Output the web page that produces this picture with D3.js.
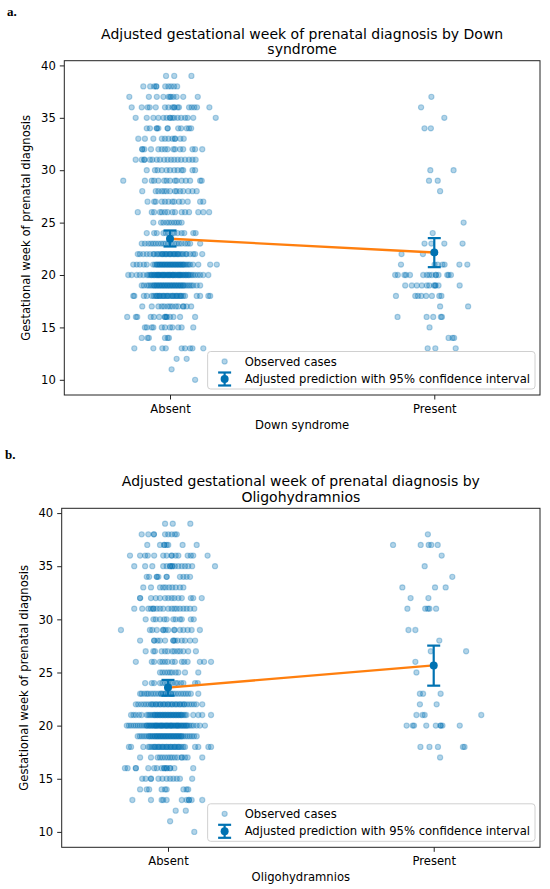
<!DOCTYPE html>
<html>
<head>
<meta charset="utf-8">
<title>Adjusted gestational week of prenatal diagnosis</title>
<script src="https://cdn.jsdelivr.net/npm/d3@7"></script>
<style>
    body { margin: 0; background: #fff; }
    svg text { font-family: "DejaVu Sans", sans-serif; fill: #000; }
    .panel-tag { font-family: "Liberation Serif", "DejaVu Serif", serif; font-weight: bold; font-size: 13px; }
</style>
</head>
<body>
<svg width="550" height="889"></svg>
<script>
const categories = ["Absent", "Present"];
const weekTicks = [10, 15, 20, 25, 30, 35, 40];

// observed cases: [week, jitter offsets in % of category spacing]
const downAbsent = [
    [39, [-1.5, 1.6, 8.1]],
    [38, [-10.1, -7.5, -6.0, -5.2, -5.2, -1.8, -0.6, 0.4, 1.5, 2.7]],
    [37, [-15.4, -8.0, -5.0, -2.5, -0.6, 0, 0.4, 1.3, 2.5, 5.0, 10.5]],
    [36, [-14.5, -10.7, -8.5, -7.7, -5.4, -1.9, -0.6, 0.9, 1.6, 1.6, 2.9, 3.4, 7.2, 8.2, 9.2, 10.2, 14.9]],
    [35, [-13.0, -8.8, -6.3, -4.4, -2.5, -1.3, 0, 0, 0.9, 1.6, 2.9, 4.2, 5.7, 6.7, 8.8, 17.3]],
    [34, [-8.8, -7.6, -5.0, -5.0, -4.4, -0.9, -0.9, 3.1, 4.2, 6.3, 7.2, 8.0]],
    [33, [-12.0, -9.5, -6.3, -3.1, -1.9, -0.6, 0.9, 1.9, 1.9, 3.9, 5.2]],
    [32, [-10.5, -10.5, -9.7, -7.2, -4.4, -3.1, -1.9, -0.9, 1.3, 1.9, 3.8, 5.0, 8.5, 9.5, 12.2]],
    [31, [-13.0, -10.7, -9.7, -9.7, -7.6, -6.7, -5.0, -3.8, -2.2, -0.9, 0.4, 1.6, 2.9, 4.2, 5.7, 7.2, 8.5, 9.7]],
    [30, [-8.8, -5.7, -4.7, -3.1, -1.3, 0, 1.6, 2.9, 4.4, 5.0, 8.5, 9.5]],
    [29, [-17.7, -9.5, -6.9, -6.0, -4.4, -2.2, -1.3, 0, 1.9, 2.5, 4.4, 6.0, 7.6, 11.4, 12.0]],
    [28, [-10.5, -5.4, -4.4, -3.1, -2.2, -1.3, 0, 1.9, 2.5, 3.8, 5.0, 6.9, 8.5, 10.1]],
    [27, [-8.5, -6.0, -5.4, -3.1, -1.9, -0.6, 0.9, 1.6, 3.4, 4.7, 6.7, 11.4, 12.6]],
    [26, [-12.2, -6.9, -6.0, -3.8, -3.1, -1.9, -0.9, 0.9, 1.9, 4.4, 5.7, 7.2, 10.7, 12.6, 14.8]],
    [25, [-6.3, -3.4, -2.5, -1.3, -0.4, 0.6, 1.6, 2.5, 3.4, 4.4]],
    [24, [-8.8, -6.0, -5.0, -2.5, -1.6, -0.6, 0.9, 1.6, 2.9, 4.4, 5.4, 8.8, 9.7]],
    [23, [-10.7, -9.5, -8.2, -7.2, -6.3, -5.4, -4.4, -3.4, -2.5, -1.6, -0.6, 0.4, 1.6, 2.5, 3.4, 4.4, 5.7, 6.7, 7.6, 11.4]],
    [22, [-12.2, -11.4, -10.1, -8.8, -7.6, -6.3, -5.0, -3.8, -3.0, -2.5, -1.9, -1.3, -0.6, 0, 0.6, 1.3, 1.9, 2.5, 3.1, 3.8, 5.0, 6.3, 7.6, 8.8, 9.5, 12.2, -6, -4.5, -3, -1.5, 0, 1.5, 3, 4.5, 6]],
    [21, [-13.9, -12.6, -11.4, -9.9, -8.8, -6.4, -5.7, -5.0, -4.4, -3.8, -3.2, -2.6, -2.0, -1.4, -0.8, -0.2, 0.4, 1.0, 1.6, 2.2, 2.8, 3.4, 4.0, 4.6, 5.2, 5.8, 6.4, 7.0, 7.6, 8.7, 10.7, 15.2, 17.7, -5, -4, -3, -2, -1, 0, 1, 2, 3, 4, 5]],
    [20, [-15.8, -14.5, -12.6, -11.4, -10.1, -8.7, -8.1, -7.5, -6.9, -6.3, -5.7, -5.1, -4.5, -3.9, -3.3, -2.7, -2.1, -1.5, -0.9, -0.3, 0.3, 0.9, 1.5, 2.1, 2.7, 3.3, 3.9, 4.5, 5.1, 5.7, 6.3, 6.9, 7.5, 8.1, 8.7, 9.5, 10.5, 11.4, 12.6, 14.5, -7, -6, -5, -4, -3, -2, -1, 0, 1, 2, 3, 4, 5, 6, 7, -4.5, -2.5, -0.5, 1.2, 3.5]],
    [19, [-10.7, -9.9, -8.7, -8.0, -7.3, -6.6, -5.9, -5.2, -4.5, -3.8, -3.1, -2.4, -1.7, -1.0, -0.3, 0.4, 1.1, 1.8, 2.5, 3.2, 3.9, 4.6, 5.3, 6.0, 6.7, 7.4, 8.1, 8.8, 10.1, 11.4, -6, -5, -4, -3, -2, -1, 0, 1, 2, 3, 4, 5]],
    [18, [-13.9, -13.5, -9.9, -8.8, -6.9, -6.2, -5.5, -4.8, -4.1, -3.4, -2.7, -2.0, -1.3, -0.6, 0.1, 0.8, 1.5, 2.2, 2.9, 3.6, 4.3, 5.0, 5.7, 10.1, 11.4, 14.5, 15.2, -5, -4, -2.5, -1, 1, 2.5, 4]],
    [17, [-10.5, -6.9, -4.4, -3.1, -2.2, -0.9, 0, 0.9, 2.2, 3.1, 5.0, 5.0, 6.3, 8.0]],
    [16, [-16.2, -12.9, -12.4, -7.3, -6.1, -4.1, -1.9, -1.9, -1.3, -1.3, 0, 1.3, 3.8, 9.5]],
    [15, [-9.5, -8.8, -6.9, -6.3, -3.1, -1.9, 0, 0.9, 3.1, 4.4, 8.8]],
    [14, [-10.7, -8.5, -8.0, -1.9, -0.9, -0.4]],
    [13, [-13.5, -6.3, -2.9, -1.6, 4.4, 5.7, 7.6, 8.5, 12.6]],
    [12, [2.5, 6.3]],
    [11, [0.6]],
    [10, [9.5]]
];

const downPresent = [
    [37, [-1.1]], [36, [-5.0]], [35, [3.8]], [34, [-3.7, -1.3]],
    [30, [-1.5, 7.3]], [29, [-2.0, 1.3]], [28, [2.2]], [25, [11.1]], [24, [-0.6]],
    [23, [-3.7, -1.1, 3.8, 10.7]],
    [22, [-12.4, -4.3]],
    [21, [-12.6, 0.1, 1.3, 3.1, 3.9, 9.5, 12.5]],
    [20, [-14.8, -13.8, -11.3, -10.7, -9.2, -4.2, -2.8, -1.9, -0.9, 0.6, 0.6, 1.6, 4.9, 5.4, 6.3]],
    [19, [-11.0, -8.5, -6.6, -4.7, -2.8, -1.9, -0.1, 0.4, 0.4, 1.6, 9.6]],
    [18, [-14.5, -7.2, -6.2, -4.9, -3.1, -0.9, 1.9, 2.7]],
    [17, [2.2, 12.8]],
    [16, [-13.9, -2.9, -0.4, 2.5, 2.9]],
    [15, [-1.8]],
    [14, [5.4, 6.9, 7.5]],
    [13, [-2.5, 0.4, 8.1]]
];

const oligoAbsent = [
    [39, [-1.1, 1.8, 8.4]],
    [38, [-9.9, -7.4, -5.3, -5.3, -1.1, 0.1, 1.4, 2.6, 3.3]],
    [37, [-7.8, -3.0, -1.4, -1.4, -0.5, 0.1, 5.5, 10.8]],
    [36, [-14.3, -10.5, -8.6, -7.6, -5.2, -1.8, -0.5, 1.4, 1.4, 2.9, 3.9, 7.4, 8.6, 9.5, 14.9]],
    [35, [-12.7, -8.6, -5.9, -1.8, -0.5, 0.8, 0.8, 1.6, 1.6, 2.6, 3.9, 5.2, 6.4, 7.6, 9.1, 17.7]],
    [34, [-8.0, -7.1, -4.2, -4.2, -3.6, -0.5, -0.5, 4.5, 5.8, 7.0, 8.3]],
    [33, [-9.3, -6.4, -3.0, -1.8, -0.9, 0.4, 1.6, 2.9, 4.5, 5.8]],
    [32, [-10.5, -10.5, -6.4, -4.6, -3.0, -1.1, 0.1, 1.4, 2.4, 3.9, 5.2, 8.6, 9.5, 12.7]],
    [31, [-12.7, -9.7, -7.4, -6.4, -5.5, -5.5, -4.2, -3.0, -1.8, 0.1, 1.4, 2.4, 3.3, 4.5, 5.8, 7.0, 8.3, 9.9]],
    [30, [-8.4, -5.5, -4.6, -3.0, -1.4, -0.5, 2.0, 2.9, 4.5, 5.2, 8.6, 9.7]],
    [29, [-17.7, -6.8, -5.9, -4.2, -1.8, -1.8, -0.9, 0.1, 2.4, 2.4, 4.5, 5.8, 7.4, 8.9, 12.0]],
    [28, [-10.5, -5.2, -5.2, -3.9, -3.0, -1.1, 2.0, 2.0, 2.6, 3.6, 5.2, 6.4, 8.3, 10.2]],
    [27, [-8.4, -5.5, -4.9, -2.4, -1.1, -0.1, 1.6, 2.4, 3.6, 4.5, 5.8, 7.6, 10.5]],
    [26, [-12.1, -6.1, -5.2, -3.0, -2.1, -1.1, -0.1, 1.6, 2.6, 5.2, 6.1, 7.4, 12.0, 13.6, 16.2]],
    [25, [-3.0, -2.1, -1.1, -0.1, 0.8, 1.6, 2.9, 3.9, 6.4, 11.4]],
    [24, [-8.6, -6.1, -5.2, -3.0, -2.1, -1.1, -0.1, 0.8, 1.6, 2.9, 3.6, 4.9, 5.8, 10.2, 11.2]],
    [23, [-10.5, -9.9, -8.9, -8.0, -7.4, -6.4, -5.5, -4.6, -3.6, -2.6, -2.6, -1.8, -0.9, -0.9, 0.1, 1.1, 1.1, 2.0, 2.9, 3.9, 4.9, 5.8, 6.7, 7.6, 8.6, 11.4]],
    [22, [-12.1, -11.2, -10.1, -9.1, -8.2, -7.3, -6.4, -5.5, -4.6, -3.7, -2.8, -1.9, -1.0, -0.1, 0.8, 1.7, 2.6, 3.5, 4.4, 5.3, 6.2, 7.1, 8.0, 8.9, 9.8, 10.7, 12.9, -6, -4.5, -3, -1.5, 0, 1.5, 3, 4.5, 6]],
    [21, [-13.9, -13.0, -12.1, -10.9, -9.9, -8.0, -7.4, -6.8, -6.2, -5.6, -5.0, -4.4, -3.8, -3.2, -2.6, -2.0, -1.4, -0.8, -0.2, 0.4, 1.0, 1.6, 2.2, 2.8, 3.4, 4.0, 4.6, 5.2, 5.8, 6.4, 7.0, 9.5, 11.4, 12.9, 16.2, -5, -4, -3, -2, -1, 0, 1, 2, 3, 4, 5]],
    [20, [-15.5, -14.7, -13.9, -13.0, -12.2, -11.4, -10.6, -9.8, -9.0, -8.2, -7.6, -7.0, -6.4, -5.8, -5.2, -4.6, -4.0, -3.4, -2.8, -2.2, -1.6, -1.0, -0.4, 0.2, 0.8, 1.4, 2.0, 2.6, 3.2, 3.8, 4.4, 5.0, 5.6, 6.2, 6.8, 7.4, 8.0, 8.8, 9.6, 10.8, 12.0, 13.9, -8, -7, -6, -5, -4, -3, -2, -1, 0, 1, 2, 3, 4, 5, 6, 7, -4.5, -2.5, -0.5, 1.2, 3.5]],
    [19, [-11.4, -10.6, -9.8, -9.0, -8.2, -7.4, -6.6, -5.8, -5.0, -4.4, -3.8, -3.2, -2.6, -2.0, -1.4, -0.8, -0.2, 0.4, 1.0, 1.6, 2.2, 2.8, 3.4, 4.0, 4.6, 5.2, 5.8, 6.6, 7.4, 8.2, 9.0, 9.8, 10.8, -7, -6, -5, -4, -3, -2, -1, 0, 1, 2, 3, 4, 5]],
    [18, [-14.7, -13.9, -9.3, -7.4, -6.8, -6.1, -5.4, -4.7, -4.0, -3.3, -2.6, -1.9, -1.2, -0.5, 0.2, 0.9, 1.6, 2.3, 3.0, 3.7, 4.4, 5.1, 5.8, 6.4, 10.2, 11.4, 15.2, 16.2, -5, -3.5, -2, -0.5, 1, 2.5, 4]],
    [17, [-10.5, -6.4, -3.9, -3.0, -2.1, -1.1, -0.1, 0.8, 1.6, 2.6, 3.6, 5.2, 5.2, 6.4, 7.4, 12.9]],
    [16, [-16.2, -15.2, -12.1, -12.1, -7.4, -5.2, -4.2, -2.4, -1.4, -1.4, -0.5, -0.5, 0.8, 0.8, 2.4, 9.5]],
    [15, [-9.7, -8.4, -6.4, -6.4, -3.6, -2.1, -0.5, 0.8, 2.0, 3.3, 4.5, 9.1]],
    [14, [-10.5, -8.0, -7.1, -2.4, -1.1, -0.5, 5.8, 7.0, 7.6]],
    [13, [-13.4, -6.4, -2.4, -1.8, -0.5, 5.2, 7.0, 7.9, 7.9, 8.9, 12.9]],
    [12, [2.9, 6.7]],
    [11, [0.8]],
    [10, [9.9]]
];

const oligoPresent = [
    [38, [-2.2]], [37, [-15.3, -4.9, -1.9, -0.9, 1.5]], [36, [3.0]], [35, [-3.4]], [34, [7.0]],
    [33, [-11.8, 0.5, 4.5]], [32, [-8.7, -2.0]], [31, [-9.9, -3.2, -2.2, -1.6, 0.9]],
    [29, [-9.5, -6.9]], [28, [2.1]], [27, [-1.1, 12.2]], [26, [-6.9]], [25, [-6.5]],
    [23, [-5.2, -4.0, 2.6]], [22, [-5.2, 1.1]], [21, [-6.5, -4.2, -3.4, 17.9]],
    [20, [-10.2, -7.9, -7.4, -2.8, 0.8, 2.6, 2.6, 3.3, 9.8]],
    [18, [-5.0, -1.6, 1.6, 11.0, 11.6]], [17, [2.4]]
];

// adjusted predictions (Absent, Present) with 95% CI
const downMean = [23.46, 22.15];
const downLower = [22.72, 20.75];
const downUpper = [24.25, 23.52];
const oligoMean = [23.58, 25.66];
const oligoLower = [22.82, 23.76];
const oligoUpper = [24.3, 27.53];

const blue = "#0072B2";
const orange = "#ff7f0e";

const svg = d3.select("svg");

function drawPanel(p) {
    const x = d3.scaleLinear().domain([-0.4, 1.4]).range([p.left, p.right]);
    const y = d3.scaleLinear().domain([8.55, 40.45]).range([p.bottom, p.top]);
    const g = svg.append("g");
    const cx = (p.left + p.right) / 2;

    g.append("text").attr("class", "panel-tag")
        .attr("x", p.tagX).attr("y", p.tagY).text(p.tag);

    p.title.forEach((line, i) => {
        g.append("text")
            .attr("x", cx).attr("y", p.top - 22 + i * 15.5)
            .attr("text-anchor", "middle").style("font-size", "14px")
            .text(line);
    });

    // observed cases
    const pts = [];
    p.groups.forEach((rows, ci) => rows.forEach(([wk, offs]) =>
        offs.forEach(o => pts.push({ x: ci + o / 100, y: wk }))));

    g.append("g").selectAll("circle").data(pts).join("circle")
        .attr("cx", d => x(d.x)).attr("cy", d => y(d.y)).attr("r", 2.6)
        .attr("fill", blue).attr("fill-opacity", 0.3)
        .attr("stroke", blue).attr("stroke-opacity", 0.3).attr("stroke-width", 1.1);

    // line linking the predictions
    const idx = [0, 1];
    g.append("path")
        .attr("d", d3.line().x(i => x(i)).y(i => y(p.mean[i]))(idx))
        .attr("fill", "none").attr("stroke", orange).attr("stroke-width", 2.3);

    // error bars
    const eb = g.append("g").selectAll("g").data(idx).join("g");
    eb.append("line")
        .attr("x1", i => x(i)).attr("x2", i => x(i))
        .attr("y1", i => y(p.lower[i])).attr("y2", i => y(p.upper[i]))
        .attr("stroke", blue).attr("stroke-width", 2.2);
    ["lower", "upper"].forEach(k => {
        eb.append("line")
            .attr("x1", i => x(i) - 6.5).attr("x2", i => x(i) + 6.5)
            .attr("y1", i => y(p[k][i])).attr("y2", i => y(p[k][i]))
            .attr("stroke", blue).attr("stroke-width", 2.2);
    });
    eb.append("circle")
        .attr("cx", i => x(i)).attr("cy", i => y(p.mean[i])).attr("r", 4)
        .attr("fill", blue);

    // axes
    const yAxis = g.append("g").attr("transform", `translate(${p.left},0)`)
        .call(d3.axisLeft(y).tickValues(weekTicks).tickSize(4.5).tickPadding(4));
    const xAxis = g.append("g").attr("transform", `translate(0,${p.bottom})`)
        .call(d3.axisBottom(x).tickValues([0, 1]).tickFormat(i => categories[i])
            .tickSize(4.5).tickPadding(5));
    [yAxis, xAxis].forEach(a => {
        a.select(".domain").remove();
        a.selectAll("text").style("font-size", "11.6px").attr("fill", "#000")
            .style("font-family", "DejaVu Sans, sans-serif");
        a.selectAll("line").attr("stroke", "#222");
    });

    g.append("rect")
        .attr("x", p.left).attr("y", p.top)
        .attr("width", p.right - p.left).attr("height", p.bottom - p.top)
        .attr("fill", "none").attr("stroke", "#222").attr("stroke-width", 1);

    g.append("text")
        .attr("x", cx).attr("y", p.bottom + 34)
        .attr("text-anchor", "middle").style("font-size", "11.6px")
        .text(p.xLabel);
    g.append("text")
        .attr("transform", `translate(${p.left - 34},${(p.top + p.bottom) / 2}) rotate(-90)`)
        .attr("text-anchor", "middle").style("font-size", "11.6px")
        .text("Gestational week of prenatal diagnosis");

    // legend
    const lg = g.append("g");
    const box = lg.append("rect").attr("rx", 3)
        .attr("fill", "#fff").attr("fill-opacity", 0.8)
        .attr("stroke", "#d0d0d0").attr("stroke-width", 1);
    const labels = ["Observed cases", "Adjusted prediction with 95% confidence interval"];
    const texts = labels.map((t, i) => lg.append("text")
        .attr("y", i * 17.5).attr("dy", "0.35em").style("font-size", "11.6px").text(t));
    const tw = d3.max(texts, t => t.node().getComputedTextLength());
    const w = tw + 42, h = 37.5;
    const bx = p.right - 5 - w, by = p.bottom - 6 - h;
    box.attr("x", bx).attr("y", by).attr("width", w).attr("height", h);
    texts.forEach((t, i) => t.attr("x", bx + 37).attr("y", by + 10 + i * 17.5));
    const mx = bx + 17;
    lg.append("circle").attr("cx", mx).attr("cy", by + 10).attr("r", 2.6)
        .attr("fill", blue).attr("fill-opacity", 0.3)
        .attr("stroke", blue).attr("stroke-opacity", 0.3).attr("stroke-width", 1.1);
    const ey = by + 27.5;
    lg.append("line").attr("x1", mx).attr("x2", mx).attr("y1", ey - 6.5).attr("y2", ey + 6.5)
        .attr("stroke", blue).attr("stroke-width", 2.2);
    [-6.5, 6.5].forEach(d => lg.append("line")
        .attr("x1", mx - 6.5).attr("x2", mx + 6.5).attr("y1", ey + d).attr("y2", ey + d)
        .attr("stroke", blue).attr("stroke-width", 2.2));
    lg.append("circle").attr("cx", mx).attr("cy", ey).attr("r", 4).attr("fill", blue);
}

drawPanel({
    tag: "a.", tagX: 7, tagY: 16,
    left: 64.3, right: 540, top: 60.7, bottom: 395,
    title: ["Adjusted gestational week of prenatal diagnosis by Down", "syndrome"],
    xLabel: "Down syndrome",
    groups: [downAbsent, downPresent],
    mean: downMean, lower: downLower, upper: downUpper
});

drawPanel({
    tag: "b.", tagX: 5, tagY: 459,
    left: 61.7, right: 540, top: 508.3, bottom: 847.3,
    title: ["Adjusted gestational week of prenatal diagnosis by", "Oligohydramnios"],
    xLabel: "Oligohydramnios",
    groups: [oligoAbsent, oligoPresent],
    mean: oligoMean, lower: oligoLower, upper: oligoUpper
});
</script>
</body>
</html>
